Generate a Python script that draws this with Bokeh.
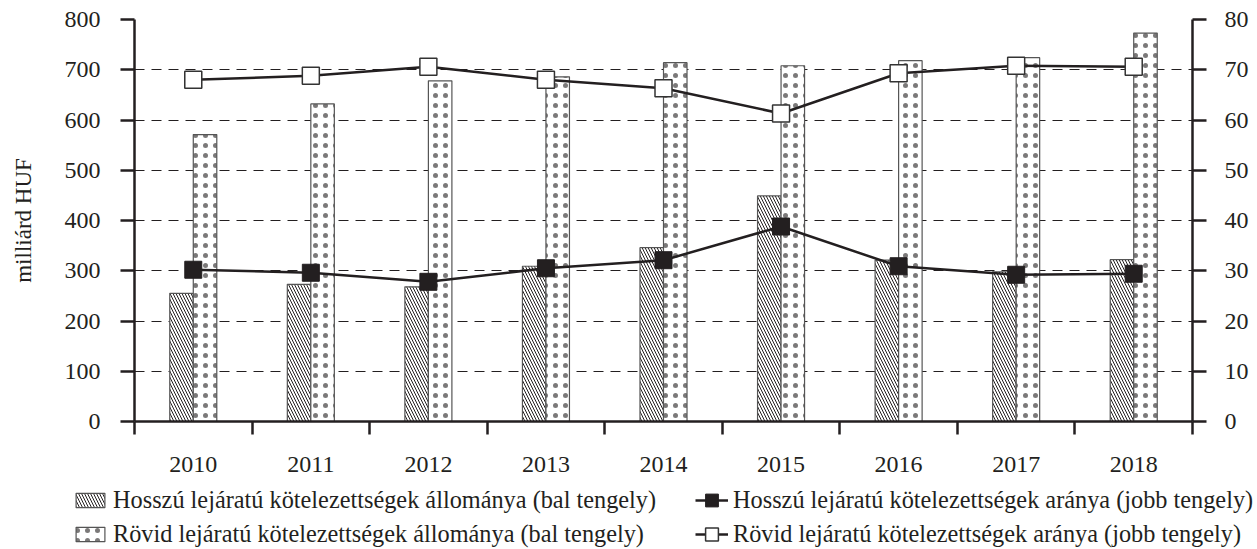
import numpy as np
from bokeh.plotting import figure
from bokeh.models import (ColumnDataSource, Range1d, LinearAxis, FixedTicker,
                          Legend, LegendItem)
from bokeh.transform import dodge
from bokeh.embed import file_html
from bokeh.resources import INLINE

# ---------------- data ----------------
years = ["2010", "2011", "2012", "2013", "2014", "2015", "2016", "2017", "2018"]
long_stock = [255, 273, 268, 309, 346, 449, 321, 298, 322]     # milliárd HUF (bal tengely)
short_stock = [571, 632, 678, 686, 714, 708, 718, 724, 773]    # milliárd HUF (bal tengely)
long_ratio = [30.2, 29.6, 27.8, 30.5, 32.1, 38.8, 30.9, 29.2, 29.4]   # % (jobb tengely)
short_ratio = [68.0, 68.8, 70.6, 68.0, 66.3, 61.3, 69.3, 70.8, 70.6]  # % (jobb tengely)
left_ticks = [0, 100, 200, 300, 400, 500, 600, 700, 800]
right_ticks = [0, 10, 20, 30, 40, 50, 60, 70, 80]
labels = ["Hosszú lejáratú kötelezettségek állománya (bal tengely)",
          "Rövid lejáratú kötelezettségek állománya (bal tengely)",
          "Hosszú lejáratú kötelezettségek aránya (jobb tengely)",
          "Rövid lejáratú kötelezettségek aránya (jobb tengely)"]
y_title = "milliárd HUF"

INK = "#231f20"
FONT = "Liberation Serif"
W = 1257
H_MAIN = 484
H_LEG = 65

idx = list(range(len(years)))
src = ColumnDataSource(dict(x=idx, long_stock=long_stock, short_stock=short_stock,
                            long_ratio=long_ratio, short_ratio=short_ratio))

BAR_LONG = dict(fill_color="white", line_color="#555555", line_width=1.2,
                hatch_pattern="\\", hatch_color=INK, hatch_scale=6, hatch_weight=1.0)
BAR_SHORT = dict(fill_color="white", line_color="#555555", line_width=1.2,
                 hatch_pattern=".", hatch_color=INK, hatch_scale=10, hatch_weight=0.5,
                 hatch_alpha=0.6)
LINE = dict(line_color=INK, line_width=2.5)
MK_LONG = dict(marker="square", size=17, fill_color=INK, line_color=INK)
MK_SHORT = dict(marker="square", size=17, fill_color="white", line_color="#333333",
                line_width=1.5)


def draw_series(fig, y_range_name):
    r1 = fig.vbar(x=dodge("x", -0.1, range=fig.x_range), top="long_stock", width=0.2,
                  source=src, **BAR_LONG)
    r2 = fig.vbar(x=dodge("x", 0.1, range=fig.x_range), top="short_stock", width=0.2,
                  source=src, **BAR_SHORT)
    l1 = fig.line(x="x", y="long_ratio", source=src, y_range_name=y_range_name, **LINE)
    s1 = fig.scatter(x="x", y="long_ratio", source=src, y_range_name=y_range_name, **MK_LONG)
    l2 = fig.line(x="x", y="short_ratio", source=src, y_range_name=y_range_name, **LINE)
    s2 = fig.scatter(x="x", y="short_ratio", source=src, y_range_name=y_range_name, **MK_SHORT)
    return r1, r2, l1, s1, l2, s2


# ---------------- main chart ----------------
p = figure(width=W, height=H_MAIN,
           x_range=Range1d(-0.5, len(years) - 0.5),
           y_range=Range1d(left_ticks[0], left_ticks[-1]),
           output_backend="svg", toolbar_location=None,
           min_border_left=134, min_border_right=65,
           min_border_top=19, min_border_bottom=H_MAIN - 421)
p.extra_y_ranges = {"right": Range1d(right_ticks[0], right_ticks[-1])}
p.outline_line_color = None
draw_series(p, "right")

ax_l = p.yaxis[0]
ax_l.ticker = FixedTicker(ticks=left_ticks)
ax_l.axis_label = y_title
ax_r = LinearAxis(y_range_name="right", ticker=FixedTicker(ticks=right_ticks))
p.add_layout(ax_r, "right")

for ax in (ax_l, ax_r):
    ax.axis_line_color = INK
    ax.axis_line_width = 2.5
    ax.major_tick_line_color = INK
    ax.major_tick_line_width = 2.5
    ax.major_tick_out = 14
    ax.major_tick_in = 0
    ax.minor_tick_out = 0
    ax.minor_tick_in = 0
    ax.major_label_text_font = FONT
    ax.major_label_text_font_size = "24px"
    ax.major_label_text_color = INK
ax_l.major_label_standoff = 20
ax_r.major_label_standoff = 18
ax_l.axis_label_text_font = FONT
ax_l.axis_label_text_font_size = "23px"
ax_l.axis_label_text_font_style = "normal"
ax_l.axis_label_text_color = INK
ax_l.axis_label_standoff = 26

ax_x = p.xaxis[0]
boundaries = list(np.arange(-0.5, len(years), 1.0))
ax_x.ticker = FixedTicker(ticks=idx, minor_ticks=boundaries)
ax_x.major_label_overrides = {i: y for i, y in zip(idx, years)}
ax_x.axis_line_color = INK
ax_x.axis_line_width = 2.5
ax_x.major_tick_out = 0
ax_x.major_tick_in = 0
ax_x.minor_tick_out = 13
ax_x.minor_tick_in = 0
ax_x.minor_tick_line_color = INK
ax_x.minor_tick_line_width = 2.5
ax_x.major_label_text_font = FONT
ax_x.major_label_text_font_size = "24px"
ax_x.major_label_text_color = INK
ax_x.major_label_standoff = 22

p.xgrid.grid_line_color = None
p.ygrid.ticker = FixedTicker(ticks=left_ticks)
p.ygrid.grid_line_color = INK
p.ygrid.grid_line_width = 1.2
p.ygrid.grid_line_dash = "10 7"

# ---------------- legend strip (same series, drawn out of view) ----------------
q = figure(width=W, height=H_LEG,
           x_range=Range1d(-0.5, len(years) - 0.5), y_range=Range1d(5000, 6000),
           x_axis_location=None, y_axis_location=None,
           output_backend="svg", toolbar_location=None,
           min_border_left=0, min_border_right=0, min_border_top=0, min_border_bottom=0)
q.extra_y_ranges = {"right": Range1d(5000, 6000)}
q.grid.visible = False
q.outline_line_color = None
qr1, qr2, ql1, qs1, ql2, qs2 = draw_series(q, "right")


def style_legend(lg, gw, gh):
    lg.label_text_font = FONT
    lg.label_text_font_size = "24.3px"
    lg.label_text_color = INK
    lg.border_line_color = None
    lg.background_fill_alpha = 0
    lg.padding = 0
    lg.margin = 0
    lg.glyph_width = gw
    lg.glyph_height = gh
    lg.label_height = 28
    lg.label_standoff = 5
    return lg


leg1 = style_legend(Legend(items=[LegendItem(label=labels[0], renderers=[qr1]),
                                  LegendItem(label=labels[1], renderers=[qr2])],
                           location=(72, 1)), 36, 18)
leg1.spacing = 6
leg2 = style_legend(Legend(items=[LegendItem(label=labels[2], renderers=[ql1, qs1]),
                                  LegendItem(label=labels[3], renderers=[ql2, qs2])],
                           location=(695, -1)), 33, 32)
leg2.spacing = 2
q.add_layout(leg1)
q.add_layout(leg2)

open("out.html", "w").write(file_html([p, q], INLINE))
